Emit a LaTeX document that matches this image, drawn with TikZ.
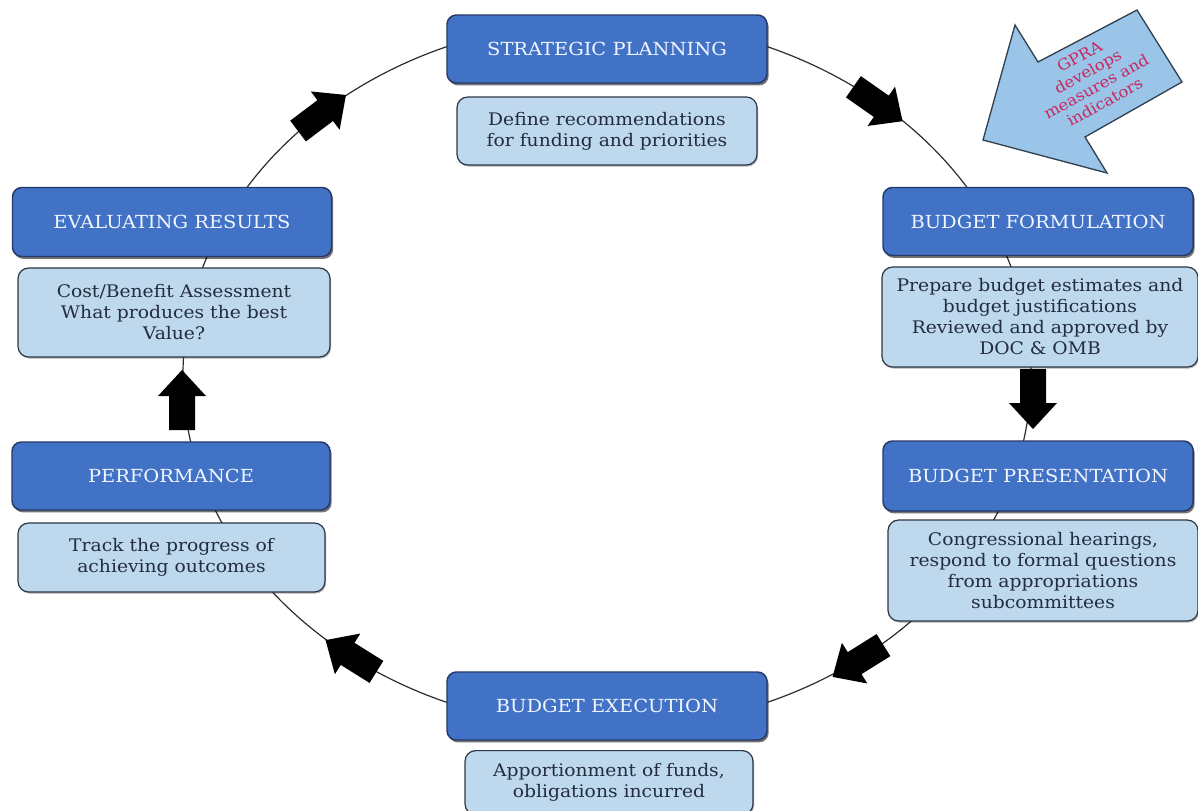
\documentclass[tikz,border=0pt]{standalone}
\usepackage{fontspec}
\setmainfont{DejaVu Serif}[FakeStretch=1.08]
\usetikzlibrary{shadows}

\definecolor{headfill}{RGB}{66,114,198}
\definecolor{headedge}{RGB}{38,58,105}
\definecolor{headtext}{RGB}{240,245,255}
\definecolor{notefill}{RGB}{190,216,238}
\definecolor{noteedge}{RGB}{45,55,70}
\definecolor{notetext}{RGB}{35,45,62}
\definecolor{gprafill}{RGB}{155,197,232}
\definecolor{gpraedge}{RGB}{50,65,80}
\definecolor{gpratext}{RGB}{200,40,95}
\definecolor{ringline}{RGB}{45,45,45}

\tikzset{
  headbox/.style={draw=headedge, line width=1.1pt, fill=headfill,
    rounded corners=7pt, text=headtext, inner sep=0pt,
    font=\fontsize{13.5}{16}\selectfont,
    drop shadow={shadow xshift=1.2pt, shadow yshift=-1.8pt, opacity=0.55, fill=black}},
  notebox/.style={draw=noteedge, line width=0.9pt, fill=notefill,
    rounded corners=8pt, text=notetext, inner sep=0pt, align=center,
    font=\fontsize{13}{15.75}\selectfont,
    drop shadow={shadow xshift=0.8pt, shadow yshift=-1.2pt, opacity=0.3, fill=black}},
  ring/.style={draw=ringline, line width=0.9pt},
  gprashape/.style={draw=gpraedge, line width=1pt, fill=gprafill},
  gpralabel/.style={text=gpratext, align=center, inner sep=0pt,
    font=\fontsize{11.5}{13}\selectfont},
  pics/flowarrow/.style={code={
    \fill[black] (-30,-13) -- (4,-13) -- (4,-24) -- (30,0) -- (4,24)
      -- (4,13) -- (-30,13) -- cycle;}}
}

\begin{document}
\begin{tikzpicture}[x=0.75pt, y=-0.75pt]
\useasboundingbox (0,0) rectangle (1198,810);
\fill[white] (0,0) rectangle (1198,810);

% the cycle ring behind all stages
\draw[ring] (607,374.5) ellipse [x radius=318pt, y radius=265.5pt];

% direction arrows along the ring (clockwise)
\pic[rotate=37] at (322,113) {flowarrow};
\pic[rotate=-35] at (878,104) {flowarrow};
\pic[rotate=-90] at (1033,399) {flowarrow};
\pic[rotate=212] at (858,661) {flowarrow};
\pic[rotate=148] at (351,656) {flowarrow};
\pic[rotate=90] at (182,400) {flowarrow};

% stage headers
\node[headbox, minimum width=240pt, minimum height=51pt] (sp) at (607,49) {STRATEGIC PLANNING};
\node[headbox, minimum width=232.5pt, minimum height=51pt] (bf) at (1038,221.5) {BUDGET FORMULATION};
\node[headbox, minimum width=232.5pt, minimum height=52.5pt] (bp) at (1038,476) {BUDGET PRESENTATION};
\node[headbox, minimum width=240pt, minimum height=51pt] (be) at (607,706) {BUDGET EXECUTION};
\node[headbox, minimum width=238.5pt, minimum height=51pt] (pf) at (171,476) {PERFORMANCE};
\node[headbox, minimum width=239.25pt, minimum height=51.75pt] (er) at (172,222) {EVALUATING RESULTS};

% stage descriptions
\node[notebox, minimum width=225pt, minimum height=51pt] (spn) at (607,131)
  {Define recommendations\\for funding and priorities};
\node[notebox, minimum width=237pt, minimum height=75pt] (bfn) at (1040,317)
  {Prepare budget estimates and\\budget justifications\\Reviewed and approved by\\DOC \& OMB};
\node[notebox, minimum width=232.5pt, minimum height=75.75pt] (bpn) at (1043,570.5)
  {Congressional hearings,\\respond to formal questions\\from appropriations\\subcommittees};
\node[notebox, minimum width=216pt, minimum height=48pt, anchor=north] (ben) at (609,750)
  {Apportionment of funds,\\obligations incurred};
\node[notebox, minimum width=230.25pt, minimum height=51.75pt] (pfn) at (171.5,557.5)
  {Track the progress of\\achieving outcomes};
\node[notebox, minimum width=234pt, minimum height=66.75pt] (ern) at (174,312.5)
  {Cost/Benefit Assessment\\What produces the best\\Value?};

% GPRA call-out arrow
\draw[gprashape] (983,140) -- (1015,25) -- (1038,62) -- (1137,10) -- (1182,82)
  -- (1085,137) -- (1107,173) -- cycle;
\node[gpralabel, rotate=29] (gpra) at (1092,79) {GPRA\\develops\\measures and\\indicators};
\end{tikzpicture}
\end{document}
